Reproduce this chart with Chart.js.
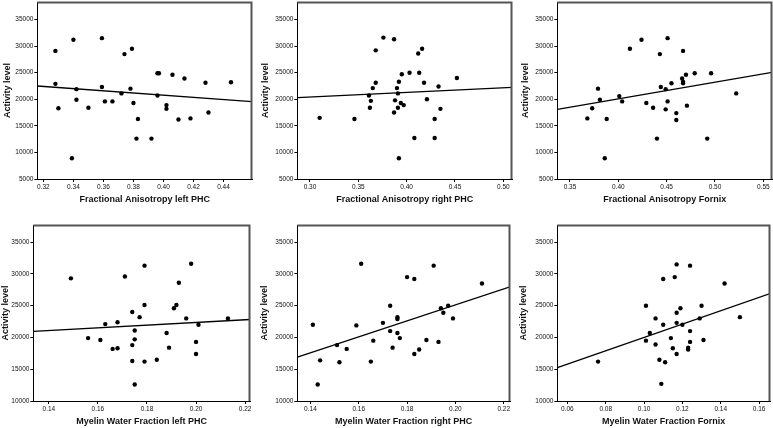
<!DOCTYPE html>
<html>
<head>
<meta charset="utf-8">
<script src="https://cdn.jsdelivr.net/npm/chart.js@4"></script>
<style>
  html, body { margin: 0; padding: 0; background: #fff; overflow: hidden; }
  #wrap { position: relative; width: 773px; height: 428px; overflow: hidden; }
  canvas { position: absolute; }
</style>
</head>
<body>
<div id="wrap"></div>
<script>
// valores: 6 paneles de dispersion con recta de ajuste
const xTitles = [
  "Fractional Anisotropy left PHC", "Fractional Anisotropy right PHC", "Fractional Anisotropy Fornix",
  "Myelin Water Fraction left PHC", "Myelin Water Fraction right PHC", "Myelin Water Fraction Fornix"
];
const yTitle = "Activity level";

const faLeftX = [0.328,0.328,0.330,0.340,0.342,0.342,0.339,0.350,0.359,0.359,0.361,0.366,0.372,0.374,0.378,0.379,0.380,0.383,0.382,0.392,0.396,0.396,0.397,0.402,0.402,0.406,0.410,0.414,0.418,0.428,0.430,0.445];
const faLeftY = [29100,22900,18300,31200,21900,19900,8900,18400,31500,22300,19600,19600,21100,28500,22000,29500,19300,16300,12600,12600,20700,24900,24900,18900,18200,24600,16200,23900,16400,23100,17500,23200];

const faRightX = [0.310,0.346,0.376,0.387,0.368,0.416,0.412,0.368,0.365,0.361,0.363,0.362,0.387,0.390,0.391,0.392,0.395,0.388,0.394,0.391,0.397,0.403,0.413,0.418,0.421,0.433,0.435,0.429,0.429,0.408,0.392,0.452];
const faRightY = [16500,16300,31600,31300,29200,29500,28600,23100,22100,20700,19700,18400,17500,22100,21100,23300,24700,19800,19300,18400,18900,25000,25000,23100,20000,22400,18200,16300,12700,12700,8900,24000];

const faFornixX = [0.368,0.373,0.379,0.381,0.386,0.388,0.401,0.404,0.412,0.424,0.429,0.436,0.440,0.443,0.444,0.449,0.449,0.451,0.451,0.455,0.460,0.460,0.466,0.467,0.467,0.467,0.470,0.471,0.479,0.492,0.496,0.522];
const faFornixY = [16400,18300,22000,19900,8900,16300,20600,19600,29500,31200,19300,18400,12600,28500,22300,21900,18100,31500,19600,23000,17400,16100,23900,29100,23300,23000,24600,18800,24900,12600,24900,21100];

const mwfLeftX = [0.149,0.156,0.161,0.163,0.166,0.168,0.168,0.171,0.174,0.175,0.175,0.174,0.174,0.175,0.177,0.179,0.179,0.179,0.184,0.188,0.189,0.191,0.192,0.193,0.196,0.198,0.200,0.200,0.201,0.213];
const mwfLeftY = [29300,19900,19600,22100,18200,22400,18300,29600,24000,21100,19700,18800,16300,12600,23200,31300,25100,16200,16500,20700,18400,24600,25100,28600,23000,31600,19300,17400,22000,23000];

const mwfRightX = [0.141,0.144,0.143,0.151,0.152,0.155,0.159,0.161,0.165,0.166,0.170,0.173,0.173,0.174,0.176,0.176,0.176,0.177,0.180,0.183,0.183,0.185,0.188,0.191,0.193,0.194,0.195,0.197,0.199,0.211];
const mwfRightY = [22000,16400,12600,18800,16100,18200,21900,31600,16200,19500,22300,25000,21000,18400,23200,22900,20700,19900,29500,29200,17400,18100,19600,31300,19300,24600,23900,25000,23000,28500];

const mwfFornixX = [0.076,0.101,0.101,0.103,0.106,0.106,0.108,0.109,0.110,0.110,0.111,0.114,0.115,0.116,0.117,0.117,0.117,0.117,0.119,0.120,0.123,0.123,0.124,0.124,0.124,0.129,0.130,0.131,0.142,0.150];
const mwfFornixY = [16200,25000,19500,20700,23000,18900,16500,12700,29200,22000,16100,19900,18300,29500,22300,23900,17400,31500,24600,22000,18400,18100,21000,19300,31300,23000,25000,19600,28500,23200];

// recta de ajuste: valor en el borde izquierdo y derecho del eje x
const fitStartY = [22500, 20300, 18100, 20950, 16900, 15250];
const fitEndY   = [19550, 22250, 25050, 22830, 27970, 26900];

// rangos de ejes y marcas
const xMin  = [0.316, 0.287, 0.337, 0.1337, 0.1346, 0.0548];
const xMax  = [0.459, 0.509, 0.559, 0.222, 0.2226, 0.1657];
const xStep = [0.02, 0.05, 0.05, 0.02, 0.02, 0.02];
const yMin  = [5000, 5000, 5000, 10000, 10000, 10000];
const yMax  = [38300, 38300, 38300, 37700, 37700, 37700];
const yTicksTop    = [5000, 10000, 15000, 20000, 25000, 30000, 35000];
const yTicksBottom = [10000, 15000, 20000, 25000, 30000, 35000];

const seriesX = [faLeftX, faRightX, faFornixX, mwfLeftX, mwfRightX, mwfFornixX];
const seriesY = [faLeftY, faRightY, faFornixY, mwfLeftY, mwfRightY, mwfFornixY];

// posicion de cada area de dibujo en la pagina (izq, der, arriba, abajo) y centro del titulo Y
const boxes = [
  [37, 252, 2, 179, 7], [297, 512, 2, 179, 265], [557, 772, 2, 179, 525],
  [33, 250, 225, 401, 5], [297, 510, 225, 401, 264], [557, 770, 225, 401, 523]
];

const FONT = "'Liberation Sans', Arial, sans-serif";
const PAD_TOP = 6, PAD_RIGHT = 10, X_H = 26;

const frame = {
  id: "frame",
  afterDraw(chart) {
    const { ctx, chartArea: a } = chart;
    ctx.save();
    ctx.strokeStyle = "#555";
    ctx.lineWidth = 2;
    ctx.beginPath();
    ctx.moveTo(a.left, a.top + 0.5);
    ctx.lineTo(a.right - 0.5, a.top + 0.5);
    ctx.lineTo(a.right - 0.5, a.bottom);
    ctx.stroke();
    ctx.restore();
  }
};

const wrap = document.getElementById("wrap");

boxes.forEach((b, i) => {
  const [L, R, T, B, tc] = b;
  const left = tc - 6.4;
  const yW = L - left;
  const yTicks = i < 3 ? yTicksTop : yTicksBottom;
  const canvas = document.createElement("canvas");
  const w = Math.round(yW + (R - L) + PAD_RIGHT);
  const h = Math.round(PAD_TOP + (B - T) + X_H);
  canvas.width = w;
  canvas.height = h;
  canvas.style.left = left + "px";
  canvas.style.top = (T - PAD_TOP) + "px";
  wrap.appendChild(canvas);

  const points = seriesX[i].map((x, k) => ({ x: x, y: seriesY[i][k] }));

  new Chart(canvas, {
    type: "scatter",
    data: {
      datasets: [
        {
          data: points,
          pointRadius: 2.2,
          pointBackgroundColor: "#000",
          pointBorderWidth: 0
        },
        {
          type: "line",
          data: [{ x: xMin[i], y: fitStartY[i] }, { x: xMax[i], y: fitEndY[i] }],
          borderColor: "#000",
          borderWidth: 1.3,
          pointRadius: 0,
          showLine: true
        }
      ]
    },
    options: {
      responsive: false,
      animation: false,
      layout: { padding: { top: PAD_TOP, right: PAD_RIGHT, left: 0, bottom: 0 } },
      plugins: { legend: { display: false }, tooltip: { enabled: false } },
      scales: {
        x: {
          type: "linear",
          min: xMin[i],
          max: xMax[i],
          afterFit(s) { s.height = X_H; },
          border: { display: true, color: "#000", width: 1 },
          grid: { drawOnChartArea: false, drawTicks: true, tickLength: 3, color: "#000" },
          ticks: {
            stepSize: xStep[i],
            includeBounds: false,
            autoSkip: false,
            maxRotation: 0,
            padding: 1,
            color: "#111",
            font: { family: FONT, size: 6.5 },
            callback: v => v.toFixed(2)
          },
          title: {
            display: true,
            text: xTitles[i],
            color: "#111",
            padding: { top: 0, bottom: 0 },
            font: { family: FONT, size: 9, weight: "bold" }
          }
        },
        y: {
          min: yMin[i],
          max: yMax[i],
          afterFit(s) { s.width = yW; },
          afterBuildTicks(s) { s.ticks = yTicks.map(v => ({ value: v })); },
          border: { display: true, color: "#000", width: 1 },
          grid: { drawOnChartArea: false, drawTicks: true, tickLength: 3, color: "#000" },
          ticks: {
            autoSkip: false,
            padding: 1,
            color: "#111",
            font: { family: FONT, size: 6.5 },
            callback: v => String(v)
          },
          title: {
            display: true,
            text: yTitle,
            color: "#111",
            padding: { top: 1, bottom: 0 },
            font: { family: FONT, size: 9, weight: "bold" }
          }
        }
      }
    },
    plugins: [frame]
  });
});
</script>
</body>
</html>
